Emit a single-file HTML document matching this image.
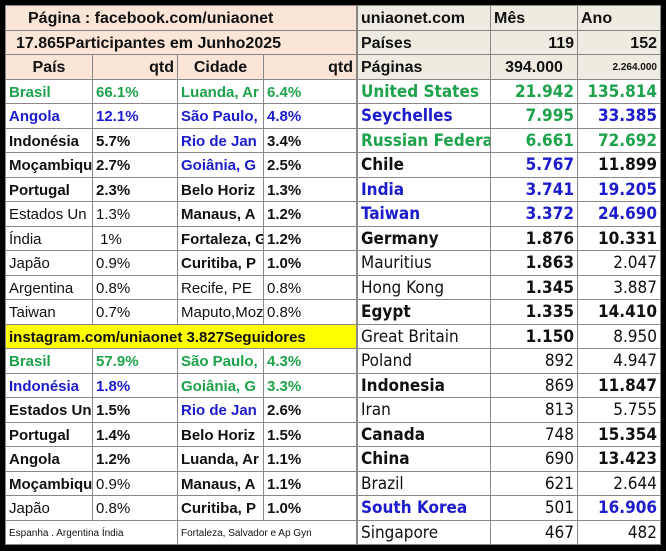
<!DOCTYPE html>
<html><head><meta charset="utf-8"><style>
html,body{margin:0;padding:0;background:#000;width:666px;height:551px;overflow:hidden}
table{position:absolute;border-collapse:collapse;table-layout:fixed;background:#fff;color:#111}
td{height:21.5px;padding:2px 3px 0 3px;white-space:nowrap;overflow:hidden;border:1px solid #888;font-weight:bold;color:inherit;line-height:21px}
#L{left:5px;top:5px;width:351px;font-family:"Liberation Sans",Arial,sans-serif;font-size:15px}
#R{left:357px;top:5px;width:303px;font-family:"Liberation Sans Narrow","DejaVu Sans Condensed","Liberation Sans",sans-serif;font-size:17px}
#R td{text-align:right}
#R td:first-child{text-align:left}
.pe{background:#fbe5d6}
.gr{background:#eeece1}
.y{background:#ffff00}
.g{color:#1ea24b}.b{color:#1c1ccc}.k{color:#111}
.n{font-weight:normal}
.sm{font-size:10px;font-weight:normal}
.c{text-align:center}.r{text-align:right}
#R .hd{font-family:"Liberation Sans",sans-serif;font-size:16px}
</style></head><body>
<table id="L">
<colgroup><col style="width:87px"><col style="width:85px"><col style="width:86px"><col style="width:93px"></colgroup>
<tr class="pe"><td colspan="4" style="padding-left:22px;font-size:16px">Página : facebook.com/uniaonet</td></tr>
<tr class="pe"><td colspan="4" style="padding-left:10px;font-size:16px">17.865Participantes em Junho2025</td></tr>
<tr class="pe"><td class="c" style="font-size:16px">País</td><td class="r" style="font-size:16px">qtd</td><td class="c" style="font-size:16px">Cidade</td><td class="r" style="font-size:16px">qtd</td></tr>
<tr class="g"><td>Brasil</td><td>66.1%</td><td>Luanda, Ar</td><td>6.4%</td></tr>
<tr class="b"><td>Angola</td><td>12.1%</td><td>São Paulo,</td><td>4.8%</td></tr>
<tr><td>Indonésia</td><td>5.7%</td><td class="b">Rio de Jan</td><td>3.4%</td></tr>
<tr><td>Moçambique</td><td>2.7%</td><td class="b">Goiânia, G</td><td>2.5%</td></tr>
<tr><td>Portugal</td><td>2.3%</td><td>Belo Horiz</td><td>1.3%</td></tr>
<tr><td class="n">Estados Un</td><td class="n">1.3%</td><td>Manaus, A</td><td>1.2%</td></tr>
<tr><td class="n">Índia</td><td class="n">&nbsp;1%</td><td>Fortaleza, G</td><td>1.2%</td></tr>
<tr><td class="n">Japão</td><td class="n">0.9%</td><td>Curitiba, P</td><td>1.0%</td></tr>
<tr><td class="n">Argentina</td><td class="n">0.8%</td><td class="n">Recife, PE</td><td class="n">0.8%</td></tr>
<tr><td class="n">Taiwan</td><td class="n">0.7%</td><td class="n">Maputo,Moz</td><td class="n">0.8%</td></tr>
<tr class="y"><td colspan="4" style="font-size:15px">instagram.com/uniaonet 3.827Seguidores</td></tr>
<tr class="g"><td>Brasil</td><td>57.9%</td><td>São Paulo,</td><td>4.3%</td></tr>
<tr><td class="b">Indonésia</td><td class="b">1.8%</td><td class="g">Goiânia, G</td><td class="g">3.3%</td></tr>
<tr><td>Estados Un</td><td>1.5%</td><td class="b">Rio de Jan</td><td>2.6%</td></tr>
<tr><td>Portugal</td><td>1.4%</td><td>Belo Horiz</td><td>1.5%</td></tr>
<tr><td>Angola</td><td>1.2%</td><td>Luanda, Ar</td><td>1.1%</td></tr>
<tr><td>Moçambique</td><td class="n">0.9%</td><td>Manaus, A</td><td>1.1%</td></tr>
<tr><td class="n">Japão</td><td class="n">0.8%</td><td>Curitiba, P</td><td>1.0%</td></tr>
<tr><td colspan="2" class="sm">Espanha . Argentina Índia</td><td colspan="2" class="sm">Fortaleza, Salvador e Ap Gyn</td></tr>
</table>
<table id="R">
<colgroup><col style="width:133px"><col style="width:87px"><col style="width:83px"></colgroup>
<tr class="gr"><td class="hd">uniaonet.com</td><td class="hd" style="text-align:left">Mês</td><td class="hd" style="text-align:left">Ano</td></tr>
<tr class="gr"><td class="hd">Países</td><td class="hd">119</td><td class="hd">152</td></tr>
<tr class="gr"><td class="hd">Páginas</td><td class="hd" style="text-align:center">394.000</td><td class="hd" style="font-size:10px">2.264.000</td></tr>
<tr class="g"><td>United States</td><td>21.942</td><td>135.814</td></tr>
<tr class="b"><td>Seychelles</td><td class="g">7.995</td><td>33.385</td></tr>
<tr class="g"><td>Russian Federa</td><td>6.661</td><td>72.692</td></tr>
<tr><td>Chile</td><td class="b">5.767</td><td>11.899</td></tr>
<tr class="b"><td>India</td><td>3.741</td><td>19.205</td></tr>
<tr class="b"><td>Taiwan</td><td>3.372</td><td>24.690</td></tr>
<tr><td>Germany</td><td>1.876</td><td>10.331</td></tr>
<tr><td class="n">Mauritius</td><td>1.863</td><td class="n">2.047</td></tr>
<tr><td class="n">Hong Kong</td><td>1.345</td><td class="n">3.887</td></tr>
<tr><td>Egypt</td><td>1.335</td><td>14.410</td></tr>
<tr><td class="n">Great Britain</td><td>1.150</td><td class="n">8.950</td></tr>
<tr><td class="n">Poland</td><td class="n">892</td><td class="n">4.947</td></tr>
<tr><td>Indonesia</td><td class="n">869</td><td>11.847</td></tr>
<tr><td class="n">Iran</td><td class="n">813</td><td class="n">5.755</td></tr>
<tr><td>Canada</td><td class="n">748</td><td>15.354</td></tr>
<tr><td>China</td><td class="n">690</td><td>13.423</td></tr>
<tr><td class="n">Brazil</td><td class="n">621</td><td class="n">2.644</td></tr>
<tr><td class="b">South Korea</td><td class="n">501</td><td class="b">16.906</td></tr>
<tr><td class="n">Singapore</td><td class="n">467</td><td class="n">482</td></tr>
</table>
</body></html>
